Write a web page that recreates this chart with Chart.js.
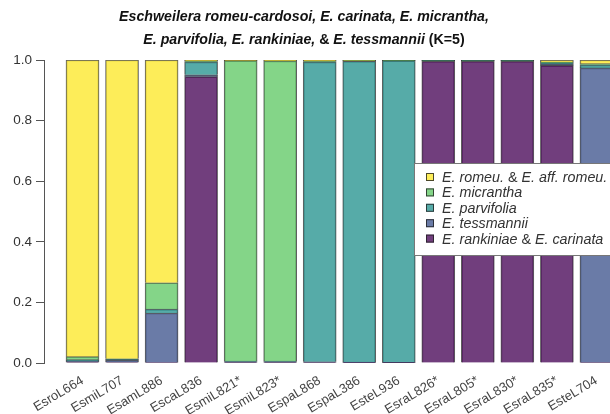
<!DOCTYPE html>
<html>
<head>
<meta charset="utf-8">
<script src="https://cdn.jsdelivr.net/npm/chart.js@4.4.1/dist/chart.umd.min.js"></script>
<style>
  html, body { margin: 0; padding: 0; background: #fff; overflow: hidden; }
  #wrap { width: 632px; height: 414px; }
</style>
</head>
<body>
<div id="wrap"><canvas id="structureChart"></canvas></div>
<script>
// sample labels along the x axis
const samples = ['EsroL664', 'EsmiL707', 'EsamL886', 'EscaL836', 'EsmiL821*', 'EsmiL823*',
  'EspaL868', 'EspaL386', 'EsteL936', 'EsraL826*', 'EsraL805*', 'EsraL830*', 'EsraL835*', 'EsteL704'];

// membership proportions per cluster (K=5), stacked bottom to top
const rankiniae  = [0.003, 0.003, 0.002, 0.945, 0.002, 0.002, 0.002, 0.001, 0.001, 0.996, 0.996, 0.996, 0.982, 0.002];
const tessmannii = [0.004, 0.006, 0.163, 0.006, 0.002, 0.002, 0.002, 0.002, 0.001, 0.001, 0.001, 0.001, 0.004, 0.972];
const parvifolia = [0.004, 0.003, 0.013, 0.043, 0.002, 0.002, 0.990, 0.993, 0.996, 0.001, 0.001, 0.001, 0.004, 0.010];
const micrantha  = [0.010, 0.002, 0.087, 0.003, 0.992, 0.991, 0.003, 0.002, 0.001, 0.001, 0.001, 0.001, 0.003, 0.004];
const romeu      = [0.979, 0.986, 0.735, 0.003, 0.002, 0.003, 0.003, 0.002, 0.001, 0.001, 0.001, 0.001, 0.007, 0.012];

const yTicks = [0, 0.2, 0.4, 0.6, 0.8, 1.0];

const clusterNames = ['E. rankiniae & E. carinata', 'E. tessmannii', 'E. parvifolia',
  'E. micrantha', 'E. romeu. & E. aff. romeu.'];
const clusterValues = [rankiniae, tessmannii, parvifolia, micrantha, romeu];
const clusterColors = ['rgba(68,1,84,0.76)', 'rgba(59,82,139,0.76)', 'rgba(33,144,140,0.76)',
  'rgba(93,200,99,0.76)', 'rgba(253,231,37,0.76)'];

const FONT = '"Liberation Sans", Arial, Helvetica, sans-serif';

// draws text made of italic / upright pieces
function drawPieces(ctx, pieces, x, y, size, weight, align) {
  const fontFor = (it) => `${it ? 'italic ' : ''}${weight} ${size}px ${FONT}`;
  let total = 0;
  pieces.forEach(p => { ctx.font = fontFor(p[1]); total += ctx.measureText(p[0]).width; });
  let cx = align === 'center' ? x - total / 2 : x;
  ctx.textAlign = 'left';
  pieces.forEach(p => {
    ctx.font = fontFor(p[1]);
    ctx.fillText(p[0], cx, y);
    cx += ctx.measureText(p[0]).width;
  });
}

// split "A & B" into italic names around an upright ampersand
function italicName(name) {
  const parts = name.split(' & ');
  const out = [];
  parts.forEach((p, i) => {
    if (i > 0) out.push([' & ', false]);
    out.push([p, true]);
  });
  return out;
}

const titlePlugin = {
  id: 'twoLineTitle',
  afterDraw(chart) {
    const ctx = chart.ctx;
    ctx.save();
    ctx.fillStyle = '#111';
    ctx.textBaseline = 'alphabetic';
    drawPieces(ctx, [['Eschweilera romeu-cardosoi, E. carinata, E. micrantha,', true]], 304, 21, 14.2, 'bold', 'center');
    drawPieces(ctx, [['E. parvifolia, E. rankiniae, ', true], ['& ', false], ['E. tessmannii', true], [' (K=5)', false]],
      304, 44, 14.2, 'bold', 'center');
    ctx.restore();
  }
};

const legendPlugin = {
  id: 'boxLegend',
  afterDraw(chart) {
    const ctx = chart.ctx;
    const x = 414, y = 163, w = 200, h = 92, rowH = 15.4;
    ctx.save();
    ctx.fillStyle = '#fff';
    ctx.fillRect(x, y, w, h);
    ctx.strokeStyle = '#777';
    ctx.lineWidth = 1;
    ctx.strokeRect(x + 0.5, y + 0.5, w, h);
    ctx.textBaseline = 'middle';
    const ds = chart.data.datasets.slice().reverse();
    ds.forEach((d, i) => {
      const ry = y + 14 + i * rowH;
      ctx.fillStyle = '#fff';
      ctx.fillRect(x + 12, ry - 4, 8, 8);
      ctx.fillStyle = d.backgroundColor;
      ctx.fillRect(x + 12, ry - 4, 8, 8);
      ctx.strokeStyle = 'rgba(30,30,30,0.8)';
      ctx.strokeRect(x + 12.5, ry - 3.5, 7, 7);
      ctx.fillStyle = '#333';
      drawPieces(ctx, italicName(d.label), x + 28, ry + 1, 14.3, 'normal', 'left');
    });
    ctx.restore();
  }
};

new Chart(document.getElementById('structureChart'), {
  type: 'bar',
  data: {
    datasets: clusterNames.map((name, k) => ({
      label: name,
      data: clusterValues[k].map((v, i) => ({ x: i, y: v })),
      backgroundColor: clusterColors[k],
      borderColor: 'rgba(25,25,25,0.7)',
      borderWidth: 1,
      barThickness: 33
    }))
  },
  options: {
    responsive: true,
    maintainAspectRatio: false,
    animation: false,
    layout: { padding: { top: 60, left: 0, right: 0, bottom: 0 } },
    plugins: {
      legend: { display: false },
      title: { display: false },
      tooltip: { enabled: false }
    },
    scales: {
      x: {
        type: 'linear',
        stacked: true,
        offset: false,
        min: -0.974,
        max: 13.9,
        afterBuildTicks: (scale) => { scale.ticks = samples.map((s, i) => ({ value: i })); },
        afterFit: (scale) => { scale.height = 51; },
        grid: { display: false },
        border: { display: false },
        ticks: {
          autoSkip: false,
          maxRotation: 31,
          minRotation: 31,
          padding: 2,
          color: '#444',
          font: { family: FONT, size: 13 },
          callback: (v) => samples[v] ?? ''
        }
      },
      y: {
        stacked: true,
        min: 0,
        max: 1,
        afterBuildTicks: (scale) => { scale.ticks = yTicks.map(v => ({ value: v })); },
        afterFit: (scale) => { scale.width = 44; },
        grid: { drawOnChartArea: false, drawTicks: true, tickLength: 8, color: '#555' },
        border: { display: true, color: '#555' },
        ticks: {
          padding: 4,
          color: '#333',
          font: { family: FONT, size: 13.5 },
          callback: (v) => v.toFixed(1)
        }
      }
    }
  },
  plugins: [titlePlugin, legendPlugin]
});
</script>
</body>
</html>
